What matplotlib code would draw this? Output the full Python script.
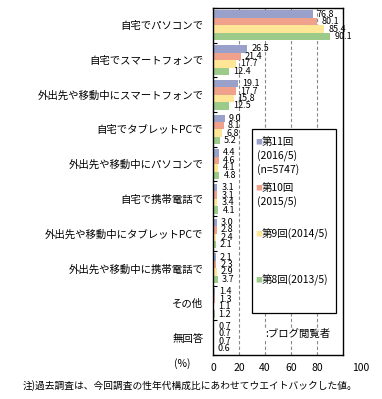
import matplotlib
matplotlib.use("Agg")
import matplotlib.pyplot as plt
from matplotlib.patches import Rectangle
import matplotlib.transforms as mtransforms
import numpy as np

plt.rcParams['font.family'] = ['Noto Sans CJK JP', 'DejaVu Sans']

categories = ["自宅でパソコンで", "自宅でスマートフォンで", "外出先や移動中にスマートフォンで",
              "自宅でタブレットPCで", "外出先や移動中にパソコンで", "自宅で携帯電話で",
              "外出先や移動中にタブレットPCで", "外出先や移動中に携帯電話で", "その他", "無回答"]
series_names = ["第11回", "第10回", "第9回(2014/5)", "第8回(2013/5)"]
s11 = [76.8, 26.5, 19.1, 9.0, 4.4, 3.1, 3.0, 2.1, 1.4, 0.7]
s10 = [80.1, 21.4, 17.7, 8.1, 4.6, 3.1, 2.8, 2.3, 1.3, 0.7]
s9 = [85.4, 17.7, 15.8, 6.8, 4.1, 3.4, 2.4, 2.9, 1.1, 0.7]
s8 = [90.1, 12.4, 12.5, 5.2, 4.8, 4.1, 2.1, 3.7, 1.2, 0.6]
xticks = [0, 20, 40, 60, 80, 100]

colors = ["#99A1CA", "#EFA18B", "#FFE596", "#9CCB89"]
series = [s11, s10, s9, s8]

W, H = 382, 399
fig = plt.figure(figsize=(W / 100, H / 100), dpi=100)
L, R, T, B = 213, 343, 8, 355
ax = fig.add_axes([L / W, 1 - B / H, (R - L) / W, (B - T) / H])

n = len(categories)
y = np.arange(n)
bh = 0.215
offsets = [-1.5 * bh, -0.5 * bh, 0.5 * bh, 1.5 * bh]
for vals, col, off in zip(series, colors, offsets):
    ax.barh(y + off, vals, height=bh, color=col, edgecolor='none', zorder=2)
    for yy, v in zip(y + off, vals):
        ax.annotate(f"{v:.1f}", xy=(v, yy), xytext=(3, 0), textcoords='offset points',
                    va='center', ha='left', fontsize=6.5, clip_on=False, zorder=5)

ax.set_xlim(0, 100)
ax.set_ylim(n - 0.5, -0.5)
for g in [20, 40, 60, 80]:
    ax.axvline(g, color='#888888', linestyle=(0, (3, 2)), linewidth=0.8, zorder=1)

ax.set_yticks(y)
ax.set_yticklabels(categories, fontsize=7.5)
ax.tick_params(axis='y', length=0, pad=7)
ax.set_yticks(np.arange(n + 1) - 0.5, minor=True)
ax.tick_params(axis='y', which='minor', direction='in', length=3, width=0.8)
ax.set_xticks(xticks)
ax.set_xticklabels([str(t) for t in xticks], fontsize=7.5)
ax.tick_params(axis='x', length=0, pad=6)
lab = ax.get_xticklabels()[-1]
lab.set_transform(lab.get_transform() + mtransforms.ScaledTranslation(18 / 100, 0, fig.dpi_scale_trans))
for sp in ax.spines.values():
    sp.set_linewidth(1.0)

# legend box
lx0, lx1, ly0, ly1 = 252, 336, 129, 313
fig.patches.append(Rectangle((lx0 / W, 1 - ly1 / H), (lx1 - lx0) / W, (ly1 - ly0) / H,
                             transform=fig.transFigure, facecolor='white', edgecolor='black',
                             linewidth=0.9, zorder=10))
fs = 7.5
def ftext(x, yy, s, **kw):
    fig.text(x / W, 1 - yy / H, s, fontsize=kw.pop('fontsize', fs), va='center', ha='left', zorder=11, **kw)

ftext(255, 142, "■", color=colors[0], fontsize=5)
ftext(262, 142, "第11回")
ftext(257, 156, "(2016/5)")
ftext(257, 170, "(n=5747)")
ftext(255, 188, "■", color=colors[1], fontsize=5)
ftext(262, 188, "第10回")
ftext(257, 202, "(2015/5)")
ftext(255, 234, "■", color=colors[2], fontsize=5)
ftext(262, 234, "第9回(2014/5)")
ftext(255, 280, "■", color=colors[3], fontsize=5)
ftext(262, 280, "第8回(2013/5)")

fig.text(265 / W, 1 - 334 / H, ":ブログ閲覧者", fontsize=7.5, va='center', ha='left', zorder=11,
         bbox=dict(facecolor='white', edgecolor='none', pad=0.5))
fig.text(182 / W, 1 - 364 / H, "(%)", fontsize=7.5, va='center', ha='center')
fig.text(190 / W, 1 - 386 / H, "注)過去調査は、今回調査の性年代構成比にあわせてウエイトバックした値。",
         fontsize=7, va='center', ha='center')

fig.savefig("out.png", dpi=100)
